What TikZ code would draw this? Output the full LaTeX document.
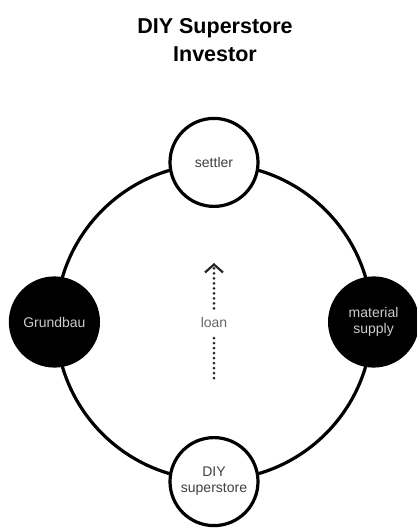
\documentclass[tikz,border=0pt]{standalone}
\usepackage{fontspec}
\setmainfont{Liberation Sans}
\usetikzlibrary{arrows.meta}
\tikzstyle{party}    = [circle,
                        draw,
                        line width=3.2pt,
                        fill=white,
                        text=black!75,
                        align=center,
                        minimum size=88pt,
                        inner sep=0pt,
                        font=\fontsize{14}{16}\selectfont]
\tikzstyle{darkparty} = [party, fill=black, text=black!20]
\tikzstyle{loanline} = [draw, line width=3pt, dash pattern=on 0pt off 5pt, line cap=round, black!85]

\begin{document}
\begin{tikzpicture}[%
  x=1pt, y=-1pt,
  thick
  ]
  \useasboundingbox (0,0) rectangle (416,530);

  % Title:
  \node (title) [align=center, font=\bfseries\fontsize{21.5}{28}\selectfont] at (215,40) {DIY Superstore\\Investor};

  % Ring:
  \node (ring) [circle, draw, line width=3.2pt, minimum size=316pt, inner sep=0pt] at (214,322) {};

  % Nodes:
  \node (settler) [party] at (ring.north) {settler};
  \node (superstore) [party] at (ring.south) {DIY\\superstore};
  \node (grundbau) [darkparty] at (ring.west) {Grundbau};
  \node (material) [darkparty] at (ring.east) {material\\supply};

  \node (loan) [text=black!60, inner ysep=8pt, font=\fontsize{14}{16}\selectfont] at (ring.center) {loan};
  \coordinate (loan-tail) at (214,378);
  \coordinate (loan-head) at (214,263);

  % Connectors:
  \draw[loanline] (loan-tail) -- (loan);
  \draw[loanline, -{Straight Barb[length=8pt,width=18pt,line width=2.2pt]}] (loan) -- (loan-head);
\end{tikzpicture}
\end{document}
